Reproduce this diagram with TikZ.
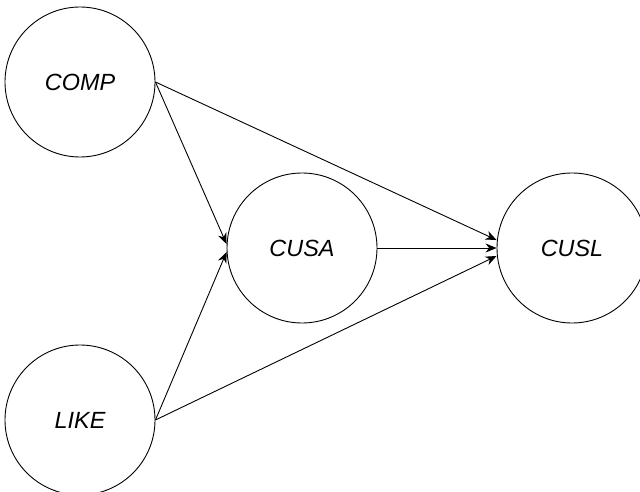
\documentclass[tikz,border=0pt]{standalone}
\usepackage{fontspec}
\setmainfont{Liberation Sans}
\usetikzlibrary{arrows.meta}
\begin{document}
\begin{tikzpicture}[x=1bp,y=-1bp,
  var/.style={circle,draw,line width=0.9bp,minimum size=150bp,inner sep=0pt,font=\fontsize{23.5}{28}\selectfont\itshape},
  conn/.style={line width=0.9bp,-{Stealth[length=11bp,width=9bp]}}]
\useasboundingbox (0,0) rectangle (640,492);
\clip (0,0) rectangle (640,492);
\node[var] (COMP) at (80,82) {COMP};
\node[var] (LIKE) at (80,420) {LIKE};
\node[var] (CUSA) at (302,248) {CUSA};
\node[var] (CUSL) at (572,248) {CUSL};
\draw[conn] (COMP.east) -- ([yshift=4bp]CUSA.west);
\draw[conn] (LIKE.east) -- ([yshift=-4bp]CUSA.west);
\draw[conn] (COMP.east) -- ([yshift=8bp]CUSL.west);
\draw[conn] (CUSA.east) -- (CUSL.west);
\draw[conn] (LIKE.east) -- ([yshift=-8bp]CUSL.west);
\end{tikzpicture}
\end{document}
